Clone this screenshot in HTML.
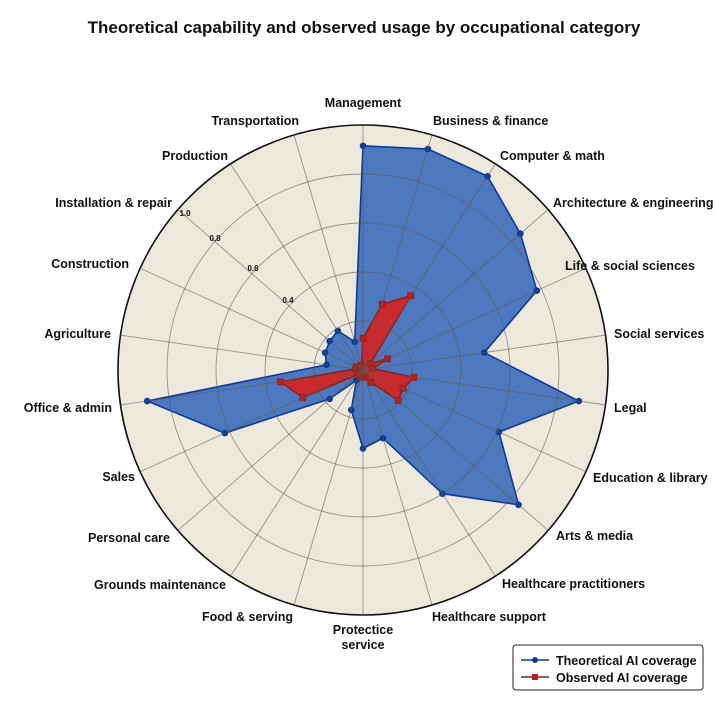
<!DOCTYPE html>
<html><head><meta charset="utf-8"><style>
html,body{margin:0;padding:0;background:#fff;}
svg{display:block;font-family:"Liberation Sans",Arial,sans-serif;}
</style></head><body>
<svg id="s" width="715" height="718" viewBox="0 0 715 718" xmlns="http://www.w3.org/2000/svg">
<text x="364" y="33" text-anchor="middle" font-size="17" font-weight="bold" fill="#111">Theoretical capability and observed usage by occupational category</text>
<circle cx="363" cy="370" r="245" fill="#ece8dc" stroke="#111" stroke-width="1.6"/>
<g id="grid"></g>
<g id="data"></g>
<g id="labels" font-size="12.5" font-weight="bold" fill="#111"></g>
<g font-size="8" font-weight="bold" fill="#111" text-anchor="middle">
<text x="185" y="216">1.0</text><text x="215" y="241">0.8</text><text x="253" y="271">0.6</text><text x="288" y="303">0.4</text>
</g>
<rect x="513" y="645" width="190" height="45" rx="3" fill="#fff" stroke="#222" stroke-width="1"/>
<line x1="521" y1="660" x2="549" y2="660" stroke="#0d3a9a" stroke-width="1.6"/><circle cx="535" cy="660" r="3" fill="#0d3a9a"/>
<line x1="521" y1="677" x2="549" y2="677" stroke="#9b1b1b" stroke-width="1.6"/><rect x="532" y="674" width="6" height="6" fill="#b51f1f"/>
<text x="556" y="665" font-size="12.5" font-weight="bold" fill="#111">Theoretical AI coverage</text>
<text x="556" y="682" font-size="12.5" font-weight="bold" fill="#111">Observed AI coverage</text>
</svg>
<script>
var NS="http://www.w3.org/2000/svg",cx=363,cy=370,R=245,N=22;
function el(t,a,p){var e=document.createElementNS(NS,t);for(var k in a)e.setAttribute(k,a[k]);p.appendChild(e);return e;}
var g=document.getElementById("grid");
function pt(i,v){var a=i*2*Math.PI/N;return [cx+R*v*Math.sin(a),cy-R*v*Math.cos(a)];}
var blue=[0.915,0.94,0.94,0.85,0.78,0.50,0.89,0.61,0.84,0.60,0.29,0.32,0.17,0.05,0.18,0.62,0.89,0.15,0.17,0.18,0.19,0.12];
var red=[0.13,0.28,0.36,0.04,0.11,0.04,0.21,0.18,0.19,0.06,0.03,0.03,0.03,0.02,0.03,0.27,0.34,0.03,0.03,0.02,0.02,0.02];
var d=document.getElementById("data");
function series(vals,fill,line,marker){
 var s=vals.map(function(v,i){return pt(i,v).join(",");}).join(" ");
 el("polygon",{points:s,fill:fill,stroke:line,"stroke-width":1.6,"stroke-linejoin":"round"},d);
 vals.forEach(function(v,i){var p=pt(i,v);
  if(marker=="c")el("circle",{cx:p[0],cy:p[1],r:3.3,fill:line},d);
  else el("rect",{x:p[0]-3,y:p[1]-3,width:6,height:6,fill:"#b51f1f",stroke:line,"stroke-width":0.8},d);});
}
series(blue,"rgba(50,100,185,0.85)","#0d3a9a","c");
series(red,"rgba(215,35,35,0.92)","#9b1b1b","s");
for(var k=1;k<5;k++)el("circle",{cx:cx,cy:cy,r:R*k/5,fill:"none",stroke:"#5a584e","stroke-width":0.9,"stroke-opacity":0.6},g);
for(var i=0;i<N;i++){var p=pt(i,1);el("line",{x1:cx,y1:cy,x2:p[0],y2:p[1],stroke:"#5a584e","stroke-width":0.9,"stroke-opacity":0.6},g);}
document.getElementById("s").insertBefore(d,g);
var L=document.getElementById("labels");
var labs=[["Management",363,107,"middle"],["Business & finance",433,125,"start"],["Computer & math",500,160,"start"],["Architecture & engineering",553,207,"start"],["Life & social sciences",565,270,"start"],["Social services",614,338,"start"],["Legal",614,412,"start"],["Education & library",593,482,"start"],["Arts & media",556,540,"start"],["Healthcare practitioners",502,588,"start"],["Healthcare support",432,621,"start"],["Protectice",363,634,"middle"],["service",363,649,"middle"],["Food & serving",293,621,"end"],["Grounds maintenance",226,589,"end"],["Personal care",170,542,"end"],["Sales",135,481,"end"],["Office & admin",112,412,"end"],["Agriculture",111,338,"end"],["Construction",129,268,"end"],["Installation & repair",172,207,"end"],["Production",228,160,"end"],["Transportation",299,125,"end"]];
labs.forEach(function(l){var t=el("text",{x:l[1],y:l[2],"text-anchor":l[3]},L);t.textContent=l[0];});
</script>
</body></html>
